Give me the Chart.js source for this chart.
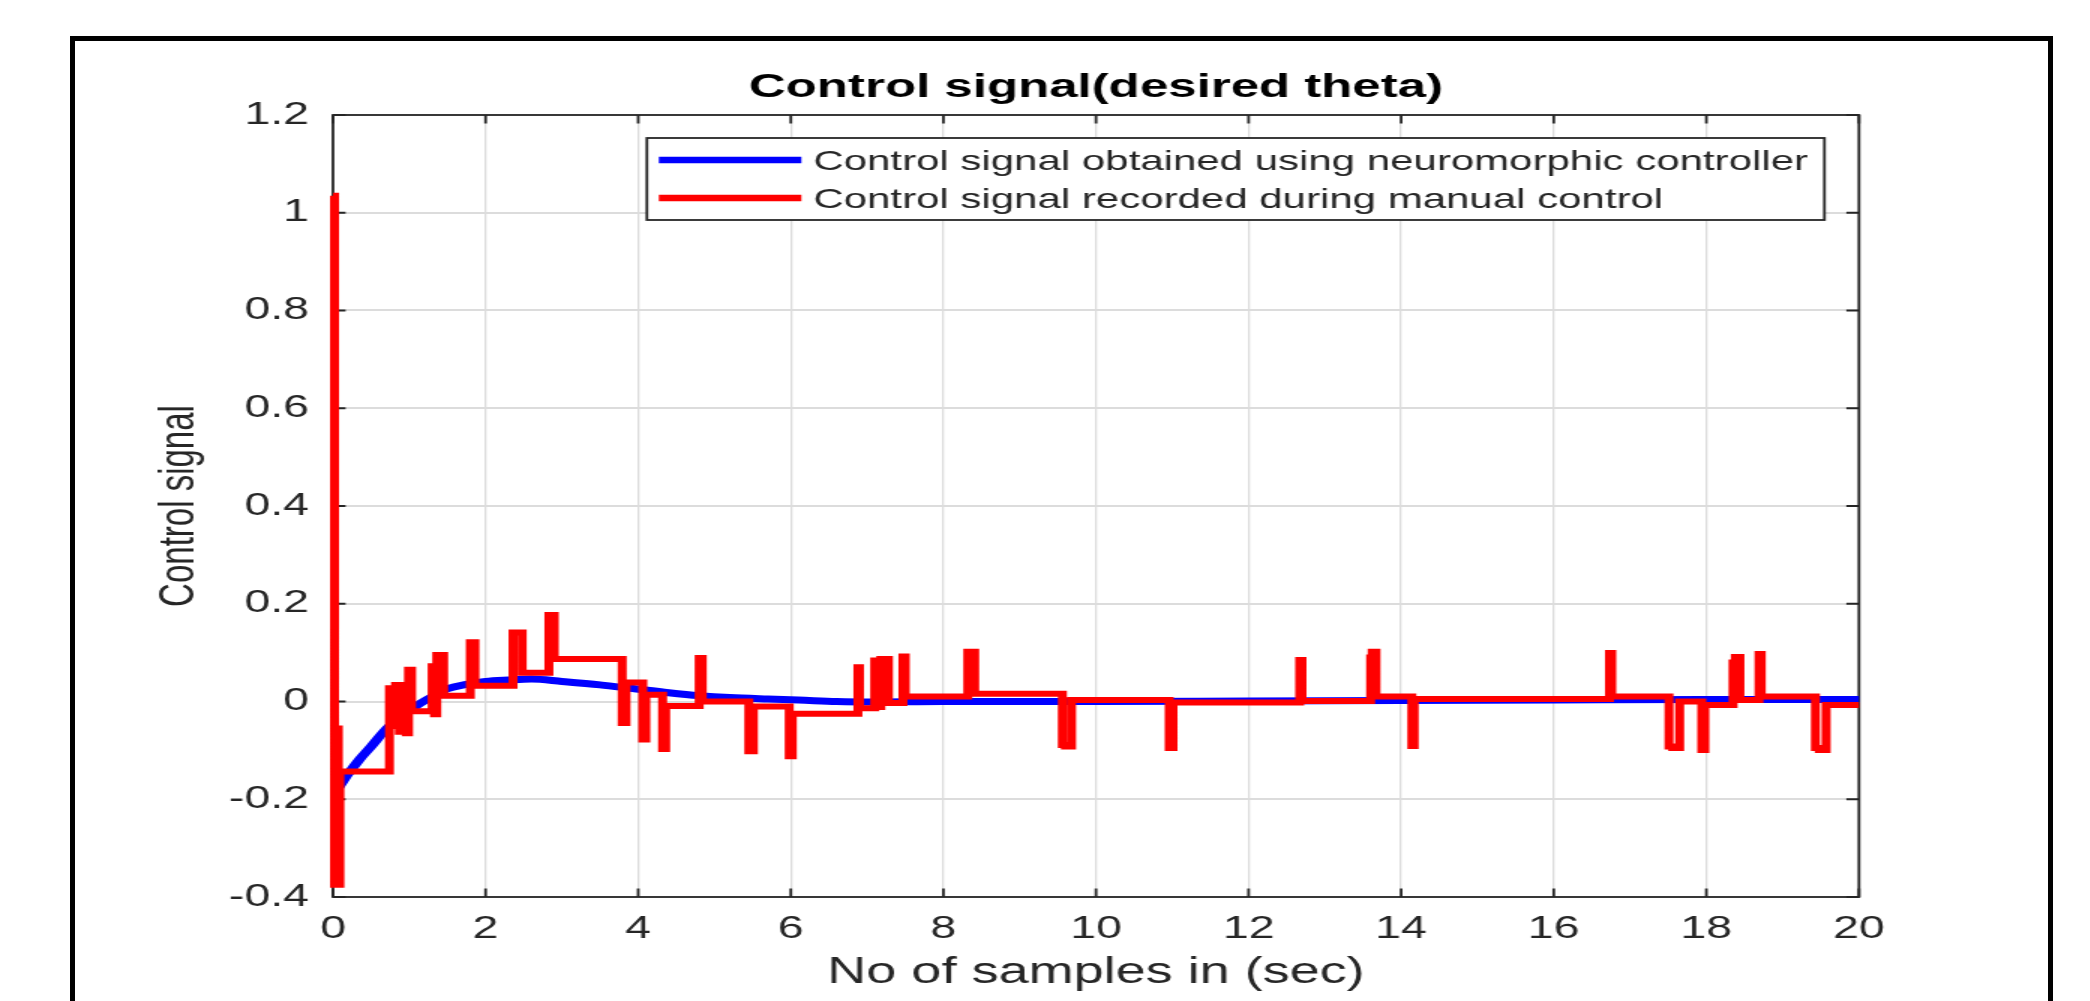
<!DOCTYPE html>
<html>
<head>
<meta charset="utf-8">
<title>Control signal(desired theta)</title>
<script src="https://cdn.jsdelivr.net/npm/chart.js@4.4.1/dist/chart.umd.min.js"></script>
<style>
  html, body { margin: 0; padding: 0; background: #fff; overflow: hidden; }
  #wrap { position: relative; width: 2090px; height: 1001px; overflow: hidden; }
  /* the source figure is stretched sideways by about 1.5x */
  #stretch { position: absolute; left: 0; top: 0; width: 1394px; height: 1001px; transform: scaleX(1.5); transform-origin: 0 0; }
  #frame { position: absolute; left: 70px; top: 36px; width: 1973px; height: 1000px; border: 5px solid #000; border-bottom: none; }
</style>
</head>
<body>
<div id="wrap">
  <div id="stretch"><canvas id="signalChart" width="1394" height="1001"></canvas></div>
  <div id="frame"></div>
</div>
<script>
// neuromorphic controller output (smooth)
const blueT = [0.08, 0.2, 0.35, 0.5, 0.7, 0.9, 1.1, 1.3, 1.5, 1.75, 2.0, 2.3, 2.6, 3.0, 3.5, 3.9, 4.4, 4.8, 5.2, 5.7, 6.1, 6.6, 7.0, 8, 10, 12, 14, 16, 18, 20];
const blueV = [-0.175, -0.148, -0.118, -0.092, -0.056, -0.03, -0.008, 0.010, 0.026, 0.035, 0.041, 0.044, 0.046, 0.041, 0.034, 0.027, 0.018, 0.012, 0.008, 0.005, 0.003, 0.0, -0.001, 0.0, 0.0, 0.001, 0.002, 0.003, 0.004, 0.004];

// manual control record (held between samples)
const redT = [0.00, 0.02, 0.05, 0.07, 0.09, 0.74, 0.78, 0.82, 0.87, 0.91, 0.96, 0.99, 1.03,
  1.30, 1.33, 1.36, 1.45, 1.80, 1.86, 2.36, 2.48, 2.83, 2.90, 3.79, 3.84, 4.06, 4.10,
  4.32, 4.36, 4.80, 4.84, 5.45, 5.51, 5.98, 6.02, 6.88, 6.90, 7.10, 7.14, 7.18, 7.28,
  7.47, 7.50, 8.32, 8.41, 9.56, 9.60, 9.68, 10.96, 11.01, 12.67, 12.70, 13.60, 13.62, 13.67,
  14.14, 14.17, 16.73, 16.76, 17.51, 17.56, 17.65, 17.94, 17.98, 18.35, 18.38, 18.44,
  18.69, 18.72, 19.43, 19.48, 19.57, 20.00];
const redV = [1.035, -0.375, -0.055, -0.375, -0.143, 0.027, -0.05, 0.034, -0.062, 0.034, -0.065, 0.065, -0.02,
  0.072, -0.026, 0.095, 0.012, 0.121, 0.032, 0.141, 0.059, 0.177, 0.087, -0.044, 0.039, -0.078, 0.014,
  -0.097, -0.009, 0.089, 0.0, -0.102, -0.01, -0.112, -0.025, 0.070, -0.014, 0.084, -0.011, 0.087, -0.003,
  0.092, 0.010, 0.102, 0.016, -0.089, -0.092, 0.003, -0.095, -0.002, 0.085, 0.001, 0.090, 0.102, 0.010,
  -0.091, 0.005, 0.099, 0.010, -0.092, -0.095, 0.0, -0.099, -0.007, 0.080, 0.091, 0.003,
  0.097, 0.010, -0.095, -0.099, -0.007, -0.007];

const xTicks = [0, 2, 4, 6, 8, 10, 12, 14, 16, 18, 20];
const yTicks = [-0.4, -0.2, 0, 0.2, 0.4, 0.6, 0.8, 1, 1.2];

const fontFamily = "'Liberation Sans', Arial, Helvetica, sans-serif";
const axisGray = "#262626";

// box round the axes with inward ticks on all four sides
const axesBox = {
  id: "axesBox",
  beforeDatasetsDraw(chart) {
    const { ctx, chartArea: a, scales: { x, y } } = chart;
    const len = 8.4;
    ctx.save();
    ctx.strokeStyle = axisGray;
    ctx.lineWidth = 1.8;
    ctx.strokeRect(a.left, a.top, a.right - a.left, a.bottom - a.top);
    ctx.beginPath();
    x.ticks.forEach(t => {
      const px = x.getPixelForValue(t.value);
      ctx.moveTo(px, a.bottom); ctx.lineTo(px, a.bottom - len);
      ctx.moveTo(px, a.top); ctx.lineTo(px, a.top + len);
    });
    y.ticks.forEach(t => {
      const py = y.getPixelForValue(t.value);
      ctx.moveTo(a.left, py); ctx.lineTo(a.left + len, py);
      ctx.moveTo(a.right, py); ctx.lineTo(a.right - len, py);
    });
    ctx.stroke();
    ctx.restore();
  }
};

// legend box inside the top right corner of the plot
const boxLegend = {
  id: "boxLegend",
  afterDraw(chart) {
    const { ctx, chartArea: a } = chart;
    const sets = chart.data.datasets;
    ctx.save();
    ctx.font = "28px " + fontFamily;
    const textW = Math.max(...sets.map(d => ctx.measureText(d.label).width));
    const w = 111 + textW + 11;
    const h = 82;
    const left = a.right - 23 - w;
    const top = a.top + 23;
    ctx.fillStyle = "#fff";
    ctx.fillRect(left, top, w, h);
    ctx.strokeStyle = axisGray;
    ctx.lineWidth = 1.8;
    ctx.strokeRect(left, top, w, h);
    sets.forEach((d, i) => {
      const cy = top + 22 + i * 38;
      ctx.strokeStyle = d.borderColor;
      ctx.lineWidth = 6.5;
      ctx.beginPath();
      ctx.moveTo(left + 8, cy);
      ctx.lineTo(left + 103, cy);
      ctx.stroke();
      ctx.fillStyle = axisGray;
      ctx.textAlign = "left";
      ctx.textBaseline = "middle";
      ctx.fillText(d.label, left + 111, cy + 2);
    });
    ctx.restore();
  }
};

const ctx = document.getElementById("signalChart").getContext("2d");

new Chart(ctx, {
  type: "line",
  data: {
    datasets: [{
      label: "Control signal obtained using neuromorphic controller",
      data: blueT.map((t, i) => ({ x: t, y: blueV[i] })),
      borderColor: "#0000ff",
      borderWidth: 7,
      pointRadius: 0,
      cubicInterpolationMode: "monotone",
      clip: false,
      order: 2
    }, {
      label: "Control signal recorded during manual control",
      data: redT.map((t, i) => ({ x: t, y: redV[i] })),
      borderColor: "#ff0000",
      borderWidth: 6,
      pointRadius: 0,
      stepped: true,
      borderJoinStyle: "miter",
      borderCapStyle: "butt",
      clip: false,
      order: 1
    }]
  },
  options: {
    responsive: false,
    animation: false,
    events: [],
    layout: { padding: { left: 0, right: 154.7, top: 0, bottom: 0 } },
    plugins: {
      legend: { display: false },
      tooltip: { enabled: false },
      title: {
        display: true,
        text: "Control signal(desired theta)",
        fullSize: false,
        color: "#000",
        font: { family: fontFamily, size: 34, weight: "bold" },
        padding: { top: 67, bottom: 7.2 }
      }
    },
    scales: {
      x: {
        type: "linear",
        min: xTicks[0],
        max: xTicks[xTicks.length - 1],
        afterFit: s => { s.height = 104; },
        afterBuildTicks: s => { s.ticks = xTicks.map(v => ({ value: v })); },
        grid: { color: "#dcdcdc", lineWidth: 1.3, drawTicks: false },
        border: { display: false },
        ticks: {
          padding: 14,
          color: axisGray,
          maxRotation: 0,
          autoSkip: false,
          font: { family: fontFamily, size: 31 }
        },
        title: {
          display: true,
          text: "No of samples in (sec)",
          color: axisGray,
          font: { family: fontFamily, size: 36 },
          padding: { top: 0, bottom: 6 }
        }
      },
      y: {
        type: "linear",
        min: yTicks[0],
        max: yTicks[yTicks.length - 1],
        afterFit: s => { s.width = 222; },
        afterBuildTicks: s => { s.ticks = yTicks.map(v => ({ value: v })); },
        grid: { color: "#dcdcdc", lineWidth: 2, drawTicks: false },
        border: { display: false },
        ticks: {
          padding: 16,
          color: axisGray,
          autoSkip: false,
          font: { family: fontFamily, size: 31 },
          callback: v => String(Number(v.toFixed(1)))
        },
        title: {
          display: true,
          text: "Control signal",
          color: axisGray,
          font: { family: fontFamily, size: 33 },
          padding: { top: 100, bottom: 0 }
        }
      }
    }
  },
  plugins: [axesBox, boxLegend]
});
</script>
</body>
</html>
